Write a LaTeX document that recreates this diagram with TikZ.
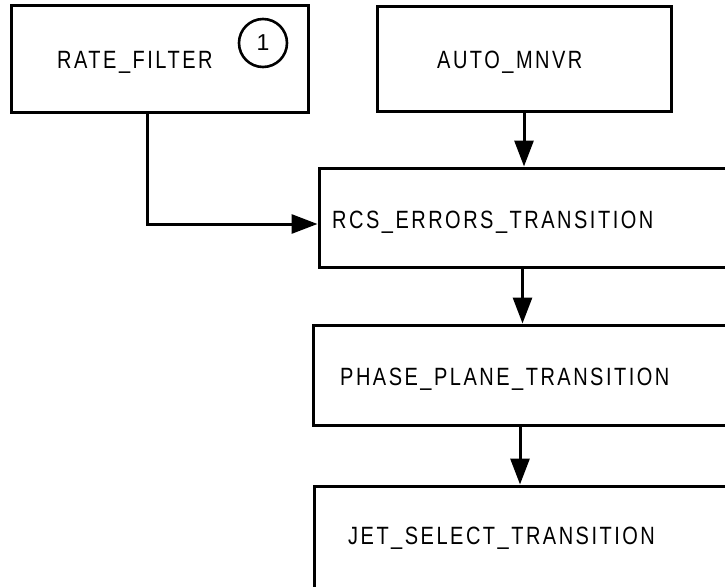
\documentclass[tikz,border=0pt]{standalone}
\usepackage{fontspec}
\usetikzlibrary{arrows.meta}
\newfontfamily\diagfont{Liberation Sans}[FakeStretch=0.8,LetterSpace=10]
\newfontfamily\numfont{Liberation Sans}

\begin{document}
\begin{tikzpicture}[x=1pt, y=-1pt,
		blk/.style={draw, line width=3pt, inner sep=0pt},
		lbl/.style={anchor=base west, inner sep=0pt, font=\diagfont\fontsize{25}{30}\selectfont},
		arr/.style={line width=3pt, -{Triangle[length=26pt, width=19pt]}}]
			%%%%% START %%%%%
			
			\clip (0, 0) rectangle (725, 586);
			\useasboundingbox (0, 0) rectangle (725, 586);
			
			% boxes
			\node[blk, minimum width=297, minimum height=106] (rate) at (159.5, 59) {};
			\node[blk, minimum width=294, minimum height=104] (auto) at (524, 59) {};
			\node[blk, minimum width=407, minimum height=99] (rcs) at (522.5, 217.5) {};
			\node[blk, minimum width=414, minimum height=100] (phase) at (520, 375) {};
			\node[blk, minimum width=413, minimum height=102] (jet) at (520.5, 537) {};
			
			% texts
			\node[lbl] (ratetxt) at (57, 69) {RATE\_FILTER};
			\node[lbl] (autotxt) at (437, 68) {AUTO\_MNVR};
			\node[lbl] (rcstxt) at (332, 228) {RCS\_ERRORS\_TRANSITION};
			\node[lbl] (phasetxt) at (340, 385.5) {PHASE\_PLANE\_TRANSITION};
			\node[lbl] (jettxt) at (348, 544) {JET\_SELECT\_TRANSITION};
			
			\node[draw, circle, line width=2.6pt, minimum size=48, inner sep=0pt,
				font=\numfont\fontsize{23}{27}\selectfont] (one) at (263, 43) {1};
			
			% links
			\draw[arr] ([xshift=-12.5pt]rate.south) |- ([yshift=-6.5pt]rcs.west);
			\draw[arr] (auto.south) -- (auto.south |- rcs.north);
			\draw[arr] (rcs.south) -- (rcs.south |- phase.north);
			\draw[arr] (phase.south) -- (phase.south |- jet.north);
			
			%%%%% END %%%%%
		\end{tikzpicture}
\end{document}
